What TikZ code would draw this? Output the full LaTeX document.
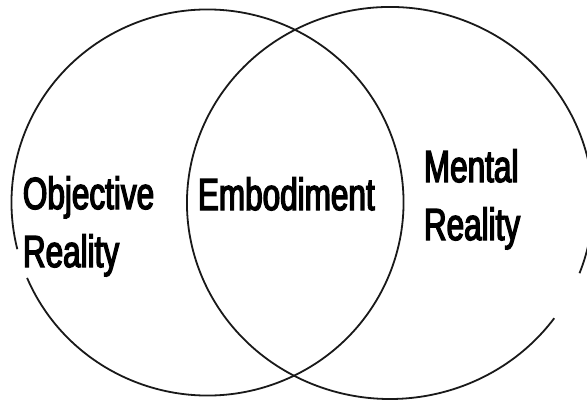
\documentclass[tikz,border=0pt]{standalone}
\usepackage{fontspec}
\setmainfont{Liberation Sans}[FakeStretch=0.7, FakeBold=3]
\usepackage{tikz}

\begin{document}
\begin{tikzpicture}[x=1pt, y=1pt, line width=1.8pt,
    kreis/.style={color=black!90},
    label/.style={inner sep=0pt, align=left, anchor=base west,
        font=\fontsize{45}{58}\selectfont}]
            \useasboundingbox (0,0) rectangle (587,400);

            % Kreise.
            \draw[kreis] (207.5,197.5) ++(203:196 and 193)
                arc[start angle=203, end angle=554, x radius=196, y radius=193];
            \draw[kreis] (390,197) ++(-21:203 and 196)
                arc[start angle=-21, end angle=324, x radius=203, y radius=196];

            % Beschriftung.
            \node[label] (objektiv) at (22,133) {Objective\\Reality};
            \node[label] (verkoerperung) at (197,190) {Embodiment};
            \node[label] (mental) at (423,160) {Mental\\Reality};
        \end{tikzpicture}
\end{document}
